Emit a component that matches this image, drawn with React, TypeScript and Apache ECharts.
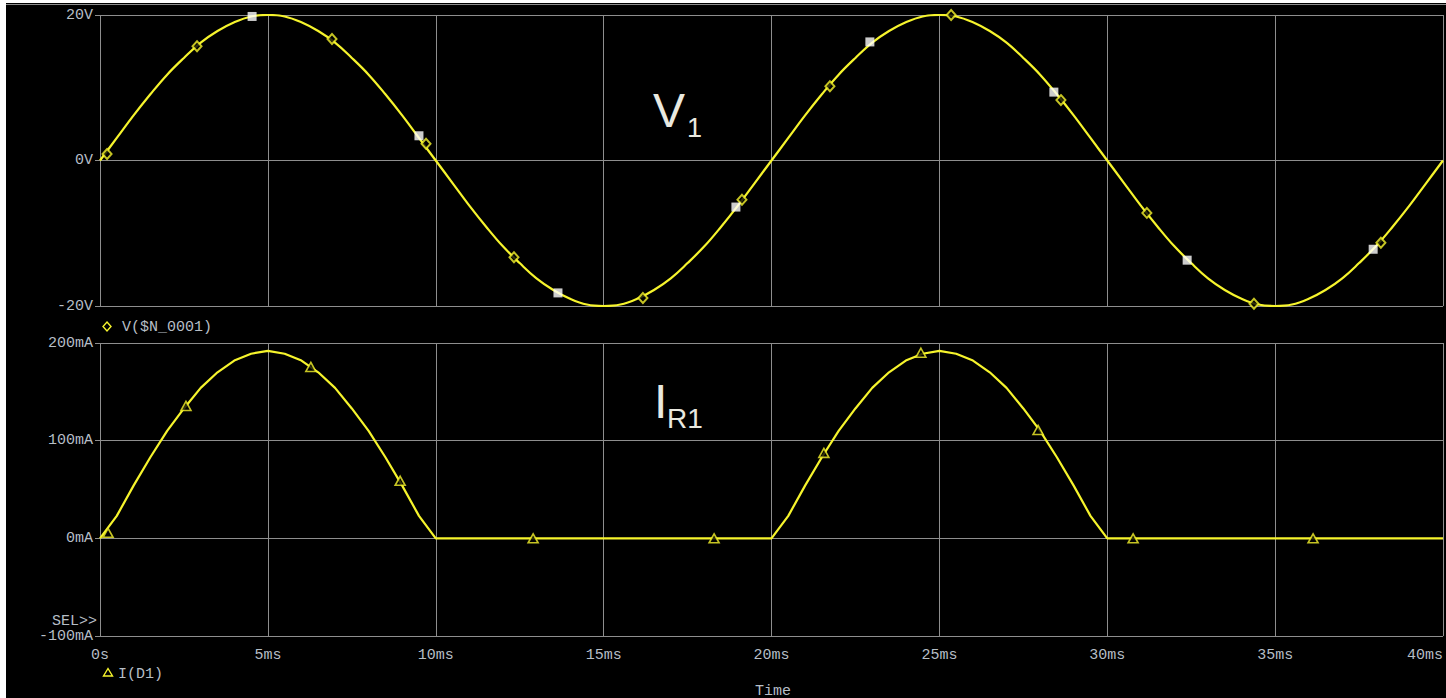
import React, { useEffect, useRef } from 'react';
import * as echarts from 'echarts';

// sample times (ms)
const TIME_MS = [
  0, 0.5, 1, 1.5, 2, 2.5, 3, 3.5, 4, 4.5, 5, 5.5, 6, 6.5, 7, 7.5, 8, 8.5, 9, 9.5,
  10, 10.5, 11, 11.5, 12, 12.5, 13, 13.5, 14, 14.5, 15, 15.5, 16, 16.5, 17, 17.5, 18, 18.5, 19, 19.5,
  20, 20.5, 21, 21.5, 22, 22.5, 23, 23.5, 24, 24.5, 25, 25.5, 26, 26.5, 27, 27.5, 28, 28.5, 29, 29.5,
  30, 30.5, 31, 31.5, 32, 32.5, 33, 33.5, 34, 34.5, 35, 35.5, 36, 36.5, 37, 37.5, 38, 38.5, 39, 39.5,
  40,
];

// V($N_0001) in volts
const V_N0001 = [
  0, 3.1, 6.2, 9.1, 11.8, 14.1, 16.2, 17.8, 19.0, 19.8, 20.0, 19.8, 19.0, 17.8, 16.2, 14.1, 11.8, 9.1, 6.2, 3.1,
  0, -3.1, -6.2, -9.1, -11.8, -14.1, -16.2, -17.8, -19.0, -19.8, -20.0, -19.8, -19.0, -17.8, -16.2, -14.1, -11.8, -9.1, -6.2, -3.1,
  0, 3.1, 6.2, 9.1, 11.8, 14.1, 16.2, 17.8, 19.0, 19.8, 20.0, 19.8, 19.0, 17.8, 16.2, 14.1, 11.8, 9.1, 6.2, 3.1,
  0, -3.1, -6.2, -9.1, -11.8, -14.1, -16.2, -17.8, -19.0, -19.8, -20.0, -19.8, -19.0, -17.8, -16.2, -14.1, -11.8, -9.1, -6.2, -3.1,
  0,
];

// I(D1) in mA
const I_D1 = [
  0, 23, 54, 83, 110, 133, 154, 170, 182, 189, 192, 189, 182, 170, 154, 133, 110, 83, 54, 23,
  0, 0, 0, 0, 0, 0, 0, 0, 0, 0, 0, 0, 0, 0, 0, 0, 0, 0, 0, 0,
  0, 23, 54, 83, 110, 133, 154, 170, 182, 189, 192, 189, 182, 170, 154, 133, 110, 83, 54, 23,
  0, 0, 0, 0, 0, 0, 0, 0, 0, 0, 0, 0, 0, 0, 0, 0, 0, 0, 0, 0,
  0,
];

// diamond markers on V trace
const V_DIAMOND_T = [0.21, 2.89, 6.91, 9.71, 12.33, 16.17, 19.12, 21.74, 25.35, 28.62, 31.18, 34.37, 38.15];
const V_DIAMOND_V = [0.9, 15.7, 16.7, 2.3, -13.3, -18.9, -5.4, 10.2, 20.0, 8.3, -7.2, -19.7, -11.3];

// white square markers on V trace
const V_SQUARE_T = [4.53, 9.5, 13.64, 18.94, 22.93, 28.41, 32.38, 37.92];
const V_SQUARE_V = [19.8, 3.4, -18.2, -6.4, 16.3, 9.4, -13.7, -12.2];

// triangle markers on I trace
const I_TRI_T = [0.24, 2.56, 6.28, 8.94, 12.9, 18.29, 21.56, 24.45, 27.94, 30.77, 36.13];
const I_TRI_I = [5.6, 135.6, 175.5, 58.9, 0, 0, 87.5, 190, 111, 0, 0];

const X_TICKS_MIN = 0;
const X_TICKS_MAX = 40;
const X_INTERVAL = 5;

const YELLOW = '#f6f42c';
const GRID = '#8e8e8e';
const LABEL = '#b6bec6';
const MONO = '"Liberation Mono", "DejaVu Sans Mono", monospace';
const SANS = '"Liberation Sans", Arial, sans-serif';
const TITLE = '#e9e9e0';

export default function App() {
  const ref = useRef<HTMLDivElement>(null);

  useEffect(() => {
    const chart = echarts.init(ref.current!, null, { renderer: 'svg' });

    const vLine = TIME_MS.map((t, i) => [t, V_N0001[i]]);
    const iLine = TIME_MS.map((t, i) => [t, I_D1[i]]);
    const vDiamonds = V_DIAMOND_T.map((t, i) => [t, V_DIAMOND_V[i]]);
    const vSquares = V_SQUARE_T.map((t, i) => [t, V_SQUARE_V[i]]);
    const iTris = I_TRI_T.map((t, i) => [t, I_TRI_I[i]]);

    const xAxisBase = {
      type: 'value',
      min: X_TICKS_MIN,
      max: X_TICKS_MAX,
      interval: X_INTERVAL,
      axisLine: { show: false },
      splitLine: { show: true, lineStyle: { color: GRID, width: 1 } },
    };

    const option: any = {
      animation: false,
      backgroundColor: '#000000',
      grid: [
        { left: 100, top: 15, width: 1343, height: 291 },
        { left: 100, top: 343, width: 1343, height: 293 },
      ],
      xAxis: [
        {
          ...xAxisBase,
          gridIndex: 0,
          axisLabel: { show: false },
          axisTick: { show: false },
        },
        {
          ...xAxisBase,
          gridIndex: 1,
          axisTick: { show: true, length: 6, lineStyle: { color: GRID } },
          axisLabel: {
            show: true,
            color: LABEL,
            fontFamily: MONO,
            fontSize: 15,
            margin: 12,
            alignMinLabel: 'center',
            alignMaxLabel: 'right',
            formatter: (v: number) => (v === 0 ? '0s' : v + 'ms'),
          },
        },
      ],
      yAxis: [
        {
          gridIndex: 0,
          type: 'value',
          min: -20,
          max: 20,
          interval: 20,
          axisLine: { show: false },
          axisTick: { show: true, length: 5, lineStyle: { color: GRID } },
          splitLine: { show: true, lineStyle: { color: GRID, width: 1 } },
          axisLabel: {
            color: LABEL,
            fontFamily: MONO,
            fontSize: 15,
            margin: 7,
            formatter: (v: number) => v + 'V',
          },
        },
        {
          gridIndex: 1,
          type: 'value',
          min: -100,
          max: 200,
          interval: 100,
          axisLine: { show: false },
          axisTick: { show: true, length: 5, lineStyle: { color: GRID } },
          splitLine: { show: true, lineStyle: { color: GRID, width: 1 } },
          axisLabel: {
            color: LABEL,
            fontFamily: MONO,
            fontSize: 15,
            margin: 7,
            formatter: (v: number) => v + 'mA',
          },
        },
      ],
      series: [
        {
          type: 'line',
          xAxisIndex: 0,
          yAxisIndex: 0,
          data: vLine,
          smooth: 0.4,
          showSymbol: false,
          lineStyle: { color: YELLOW, width: 2.2 },
          z: 2,
        },
        {
          type: 'line',
          xAxisIndex: 1,
          yAxisIndex: 1,
          data: iLine,
          showSymbol: false,
          lineStyle: { color: YELLOW, width: 2.2 },
          z: 2,
        },
        {
          type: 'scatter',
          xAxisIndex: 0,
          yAxisIndex: 0,
          data: vDiamonds,
          symbol: 'diamond',
          symbolSize: [9, 10],
          itemStyle: { color: '#000', borderColor: YELLOW, borderWidth: 2 },
          z: 3,
        },
        {
          type: 'scatter',
          xAxisIndex: 0,
          yAxisIndex: 0,
          data: vSquares,
          symbol: 'rect',
          symbolSize: 9,
          itemStyle: { color: '#ffffff' },
          z: 3,
        },
        {
          type: 'scatter',
          xAxisIndex: 1,
          yAxisIndex: 1,
          data: iTris,
          symbol: 'triangle',
          symbolSize: [10, 9],
          itemStyle: { color: '#000', borderColor: YELLOW, borderWidth: 1.6 },
          z: 3,
        },
      ],
      graphic: [
        // white page edge and window frame line
        { type: 'rect', shape: { x: 0, y: 0, width: 6, height: 698 }, style: { fill: '#ffffff' }, z: 100 },
        { type: 'rect', shape: { x: 0, y: 0, width: 1446, height: 3 }, style: { fill: '#ffffff' }, z: 100 },
        { type: 'line', shape: { x1: 6, y1: 4.5, x2: 1446, y2: 4.5 }, style: { stroke: GRID, lineWidth: 1 }, z: 100 },
        // legend entries
        {
          type: 'polygon',
          shape: { points: [[107, 322], [111, 326.5], [107, 331], [103, 326.5]] },
          style: { fill: 'none', stroke: YELLOW, lineWidth: 1.4 },
        },
        {
          type: 'text',
          x: 122,
          y: 327,
          style: { text: 'V($N_0001)', fill: LABEL, font: '15px ' + MONO, verticalAlign: 'middle', align: 'left' },
        },
        {
          type: 'polygon',
          shape: { points: [[108, 668.5], [112.5, 676], [103.5, 676]] },
          style: { fill: 'none', stroke: YELLOW, lineWidth: 1.4 },
        },
        {
          type: 'text',
          x: 118,
          y: 674,
          style: { text: 'I(D1)', fill: LABEL, font: '15px ' + MONO, verticalAlign: 'middle', align: 'left' },
        },
        {
          type: 'text',
          x: 97,
          y: 621,
          style: { text: 'SEL>>', fill: LABEL, font: '15px ' + MONO, verticalAlign: 'middle', align: 'right' },
        },
        {
          type: 'text',
          x: 773,
          y: 691,
          style: { text: 'Time', fill: LABEL, font: '15px ' + MONO, verticalAlign: 'middle', align: 'center' },
        },
        // annotations
        {
          type: 'text',
          x: 653,
          y: 110,
          style: { text: 'V', fill: TITLE, font: '48px ' + SANS, verticalAlign: 'middle', align: 'left' },
        },
        {
          type: 'text',
          x: 687,
          y: 128,
          style: { text: '1', fill: TITLE, font: '27px ' + SANS, verticalAlign: 'middle', align: 'left' },
        },
        {
          type: 'text',
          x: 654,
          y: 401,
          style: { text: 'I', fill: TITLE, font: '48px ' + SANS, verticalAlign: 'middle', align: 'left' },
        },
        {
          type: 'text',
          x: 667,
          y: 418,
          style: { text: 'R1', fill: TITLE, font: '28px ' + SANS, verticalAlign: 'middle', align: 'left' },
        },
      ],
    };

    chart.setOption(option);
    return () => chart.dispose();
  }, []);

  return <div ref={ref} style={{ position: 'fixed', left: 0, top: 0, width: 1446, height: 698 }} />;
}
